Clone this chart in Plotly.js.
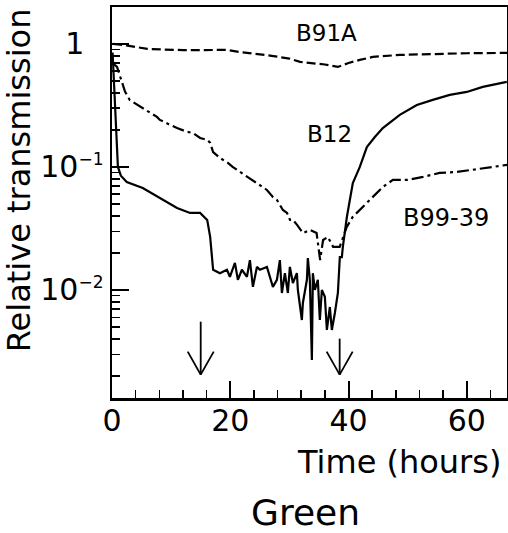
<!DOCTYPE html>
<html>
<head>
<meta charset="utf-8">
<script src="https://cdn.plot.ly/plotly-3.0.1.min.js"></script>
<style>html,body{margin:0;padding:0;background:#fff;}#chart{width:508px;height:533px;}</style>
</head>
<body>
<div id="chart"></div>
<script>
// ---- Data ----
var b91aT = [0.2, 2, 6, 12, 19.4, 21.6, 27, 30, 31.8, 33.5, 36, 38.2, 40, 41.9, 44.1, 48.7, 54.3, 60, 66.8];
var b91aV = [1.0, 0.98, 0.91, 0.89, 0.894, 0.86, 0.80, 0.76, 0.714, 0.70, 0.68, 0.65, 0.70, 0.741, 0.784, 0.814, 0.83, 0.84, 0.845];

var b12T = [0.1, 0.3, 0.5, 0.7, 1.0, 1.5, 2.5, 5.2, 6.4, 8.6, 11.0, 13.2, 14.9, 16.1, 16.6, 17.1,
  18.25, 19.44, 19.94, 20.79, 21.29, 21.97, 22.82, 23.32, 23.83, 24.51, 25.01, 26.2, 26.7, 27.21, 27.89,
  28.39, 28.73, 29.24, 29.74, 30.08, 30.59, 31.27, 31.43, 32.11, 32.28, 32.96, 33.12, 33.46, 33.8, 33.97,
  34.31, 34.81, 35.15, 35.49, 36.0, 36.34, 36.84, 37.18, 37.69, 38.03, 38.2, 38.53, 38.87, 39.04, 39.38,
  39.72, 40.22, 40.73, 41.91, 43.1, 44.45, 45.8, 48.67, 51.55, 54.25, 57.12, 60.0, 62.7, 66.76];
var b12V = [0.85, 0.5, 0.28, 0.17, 0.10, 0.085, 0.0755, 0.0675, 0.0626, 0.054, 0.0464, 0.0423, 0.0423, 0.0371, 0.027, 0.0146,
  0.0137, 0.0146, 0.0128, 0.0166, 0.0121, 0.0146, 0.0128, 0.0175, 0.0106, 0.0154, 0.0146, 0.0154, 0.0128, 0.0106, 0.0121,
  0.0175, 0.00945, 0.0137, 0.00945, 0.0154, 0.0114, 0.0137, 0.0100, 0.0057, 0.00784, 0.0121, 0.0182, 0.0121, 0.0027, 0.0137,
  0.0100, 0.0121, 0.0057, 0.0100, 0.0088, 0.00473, 0.00727, 0.00473, 0.0065, 0.0088, 0.00945, 0.0185, 0.0185, 0.0224, 0.0308,
  0.0392, 0.0539, 0.0741, 0.100, 0.145, 0.175, 0.207, 0.265, 0.319, 0.351, 0.385, 0.407, 0.447, 0.491];

var b9939T = [0.1, 0.85, 2.2, 3.0, 7.6, 8.1, 9.8, 11.0, 12.7, 13.7, 14.9, 16.1, 16.6, 17.1, 18.3, 19.6, 20.4, 23.8,
  25.5, 26.2, 27.2, 27.9, 28.9, 29.6, 30.1, 30.6, 31.3, 32.3, 33.5, 34.6, 35.2, 35.7, 36.5, 37.4, 38.5, 39.7,
  40.7, 42.4, 44.1, 45.8, 47.5, 49.9, 52.6, 55.4, 58.3, 61.0, 64.4, 66.8];
var b9939V = [0.70, 0.65, 0.41, 0.35, 0.255, 0.241, 0.22, 0.207, 0.193, 0.189, 0.172, 0.166, 0.157, 0.132, 0.118, 0.108, 0.10, 0.078,
  0.0688, 0.065, 0.057, 0.0539, 0.0447, 0.0423, 0.0371, 0.0371, 0.0338, 0.029, 0.0308, 0.029, 0.0175, 0.0255, 0.027, 0.0224, 0.0224, 0.0325,
  0.0392, 0.0473, 0.057, 0.0688, 0.0784, 0.0784, 0.083, 0.0894, 0.091, 0.0945, 0.10, 0.104];

var seriesNames = ["B91A", "B12", "B99-39"];
var labelT = [36.3, 36.8, 56.4];
var labelV = [1.23, 0.185, 0.0385];

var xTickVals = [0, 20, 40, 60];
var xTickText = ["0", "20", "40", "60"];
var yTickVals = [1, 0.1, 0.01];
var yTickText = ["1\u00a0\u00a0",
                 "10<sup><span style='font-size:17px'>\u22121</span></sup>",
                 "10<sup><span style='font-size:17px'>\u22122</span></sup>"];
var yMinorVals = [0.002,0.003,0.004,0.005,0.006,0.007,0.008,0.009,
                  0.02,0.03,0.04,0.05,0.06,0.07,0.08,0.09,
                  0.2,0.3,0.4,0.5,0.6,0.7,0.8,0.9,2];

var arrowTimes = [15, 38.5];
var arrowTip = 0.00205;
var arrowShaft = [53, 36];

var xTitle = "Time (hours)";
var yTitle = "Relative transmission";
var chartTitle = "Green";

var xRange = [0, 66.8];
var yRangeLog = [-2.878, 0.30];

// ---- Traces ----
var FONT = "DejaVu Sans, Liberation Sans, Arial, sans-serif";
var traces = [
  {x: b91aT, y: b91aV, name: seriesNames[0], mode: "lines", line: {color: "#000", width: 2.2, dash: "9px,4px"}},
  {x: b12T, y: b12V, name: seriesNames[1], mode: "lines", line: {color: "#000", width: 2.2}},
  {x: b9939T, y: b9939V, name: seriesNames[2], mode: "lines", line: {color: "#000", width: 2.2, dash: "12px,4px,3px,4px"}}
];

var annotations = [];
for (var i = 0; i < seriesNames.length; i++) {
  annotations.push({x: labelT[i], y: Math.log10(labelV[i]), xref: "x", yref: "y", text: seriesNames[i],
    showarrow: false, font: {family: FONT, size: i === 2 ? 24 : 23, color: "#000"}, xanchor: "center", yanchor: "middle"});
}
annotations.push({x: 0.99, y: -0.163, xref: "paper", yref: "paper", text: xTitle, showarrow: false,
  xanchor: "right", yanchor: "middle", font: {family: FONT, size: 32, color: "#000"}});
annotations.push({x: 0.491, y: -0.292, xref: "paper", yref: "paper", text: chartTitle, showarrow: false,
  xanchor: "center", yanchor: "middle", font: {family: FONT, size: 36, color: "#000"}});
annotations.push({x: -0.235, y: 0.5575, xref: "paper", yref: "paper", text: yTitle, showarrow: false, textangle: -90,
  xanchor: "center", yanchor: "middle", font: {family: FONT, size: 32, color: "#000"}});

// Arrows drawn as pixel-sized line shapes anchored at the arrow tip
var shapes = [];
var tipPaper = (Math.log10(arrowTip) - yRangeLog[0]) / (yRangeLog[1] - yRangeLog[0]);
for (var j = 0; j < arrowTimes.length; j++) {
  var segs = [[0, arrowShaft[j]], [-13, 23], [13, 23]];
  for (var k = 0; k < segs.length; k++) {
    shapes.push({type: "line", xref: "x", xsizemode: "pixel", xanchor: arrowTimes[j], x0: segs[k][0], x1: 0,
      yref: "paper", ysizemode: "pixel", yanchor: tipPaper, y0: segs[k][1], y1: 0,
      line: {color: "#000", width: 1.8}});
  }
}

var layout = {
  width: 508, height: 533,
  margin: {l: 112, r: 1, t: 7, b: 135},
  paper_bgcolor: "#fff", plot_bgcolor: "#fff",
  showlegend: false,
  font: {family: FONT, color: "#000"},
  xaxis: {
    range: xRange, tickmode: "array", tickvals: xTickVals, ticktext: xTickText,
    ticks: "inside", ticklen: 17, tickwidth: 2, tickcolor: "#000",
    showline: true, linewidth: 2.5, linecolor: "#000", mirror: true,
    showgrid: false, zeroline: false, ticklabelstandoff: -6,
    tickfont: {family: FONT, size: 30, color: "#000"},
    minor: {tickmode: "linear", tick0: 0, dtick: 4, ticks: "inside", ticklen: 8, tickwidth: 1.5, tickcolor: "#000", showgrid: false}
  },
  yaxis: {
    type: "log", range: yRangeLog, tickmode: "array", tickvals: yTickVals, ticktext: yTickText,
    ticks: "inside", ticklen: 17, tickwidth: 2, tickcolor: "#000",
    showline: true, linewidth: 2.5, linecolor: "#000", mirror: true,
    showgrid: false, zeroline: false, ticklabelstandoff: 0,
    tickfont: {family: FONT, size: 30, color: "#000"},
    minor: {tickmode: "array", tickvals: yMinorVals, ticks: "inside", ticklen: 8, tickwidth: 1.5, tickcolor: "#000", showgrid: false}
  },
  annotations: annotations,
  shapes: shapes
};

Plotly.newPlot("chart", traces, layout, {staticPlot: true});
</script>
</body>
</html>
